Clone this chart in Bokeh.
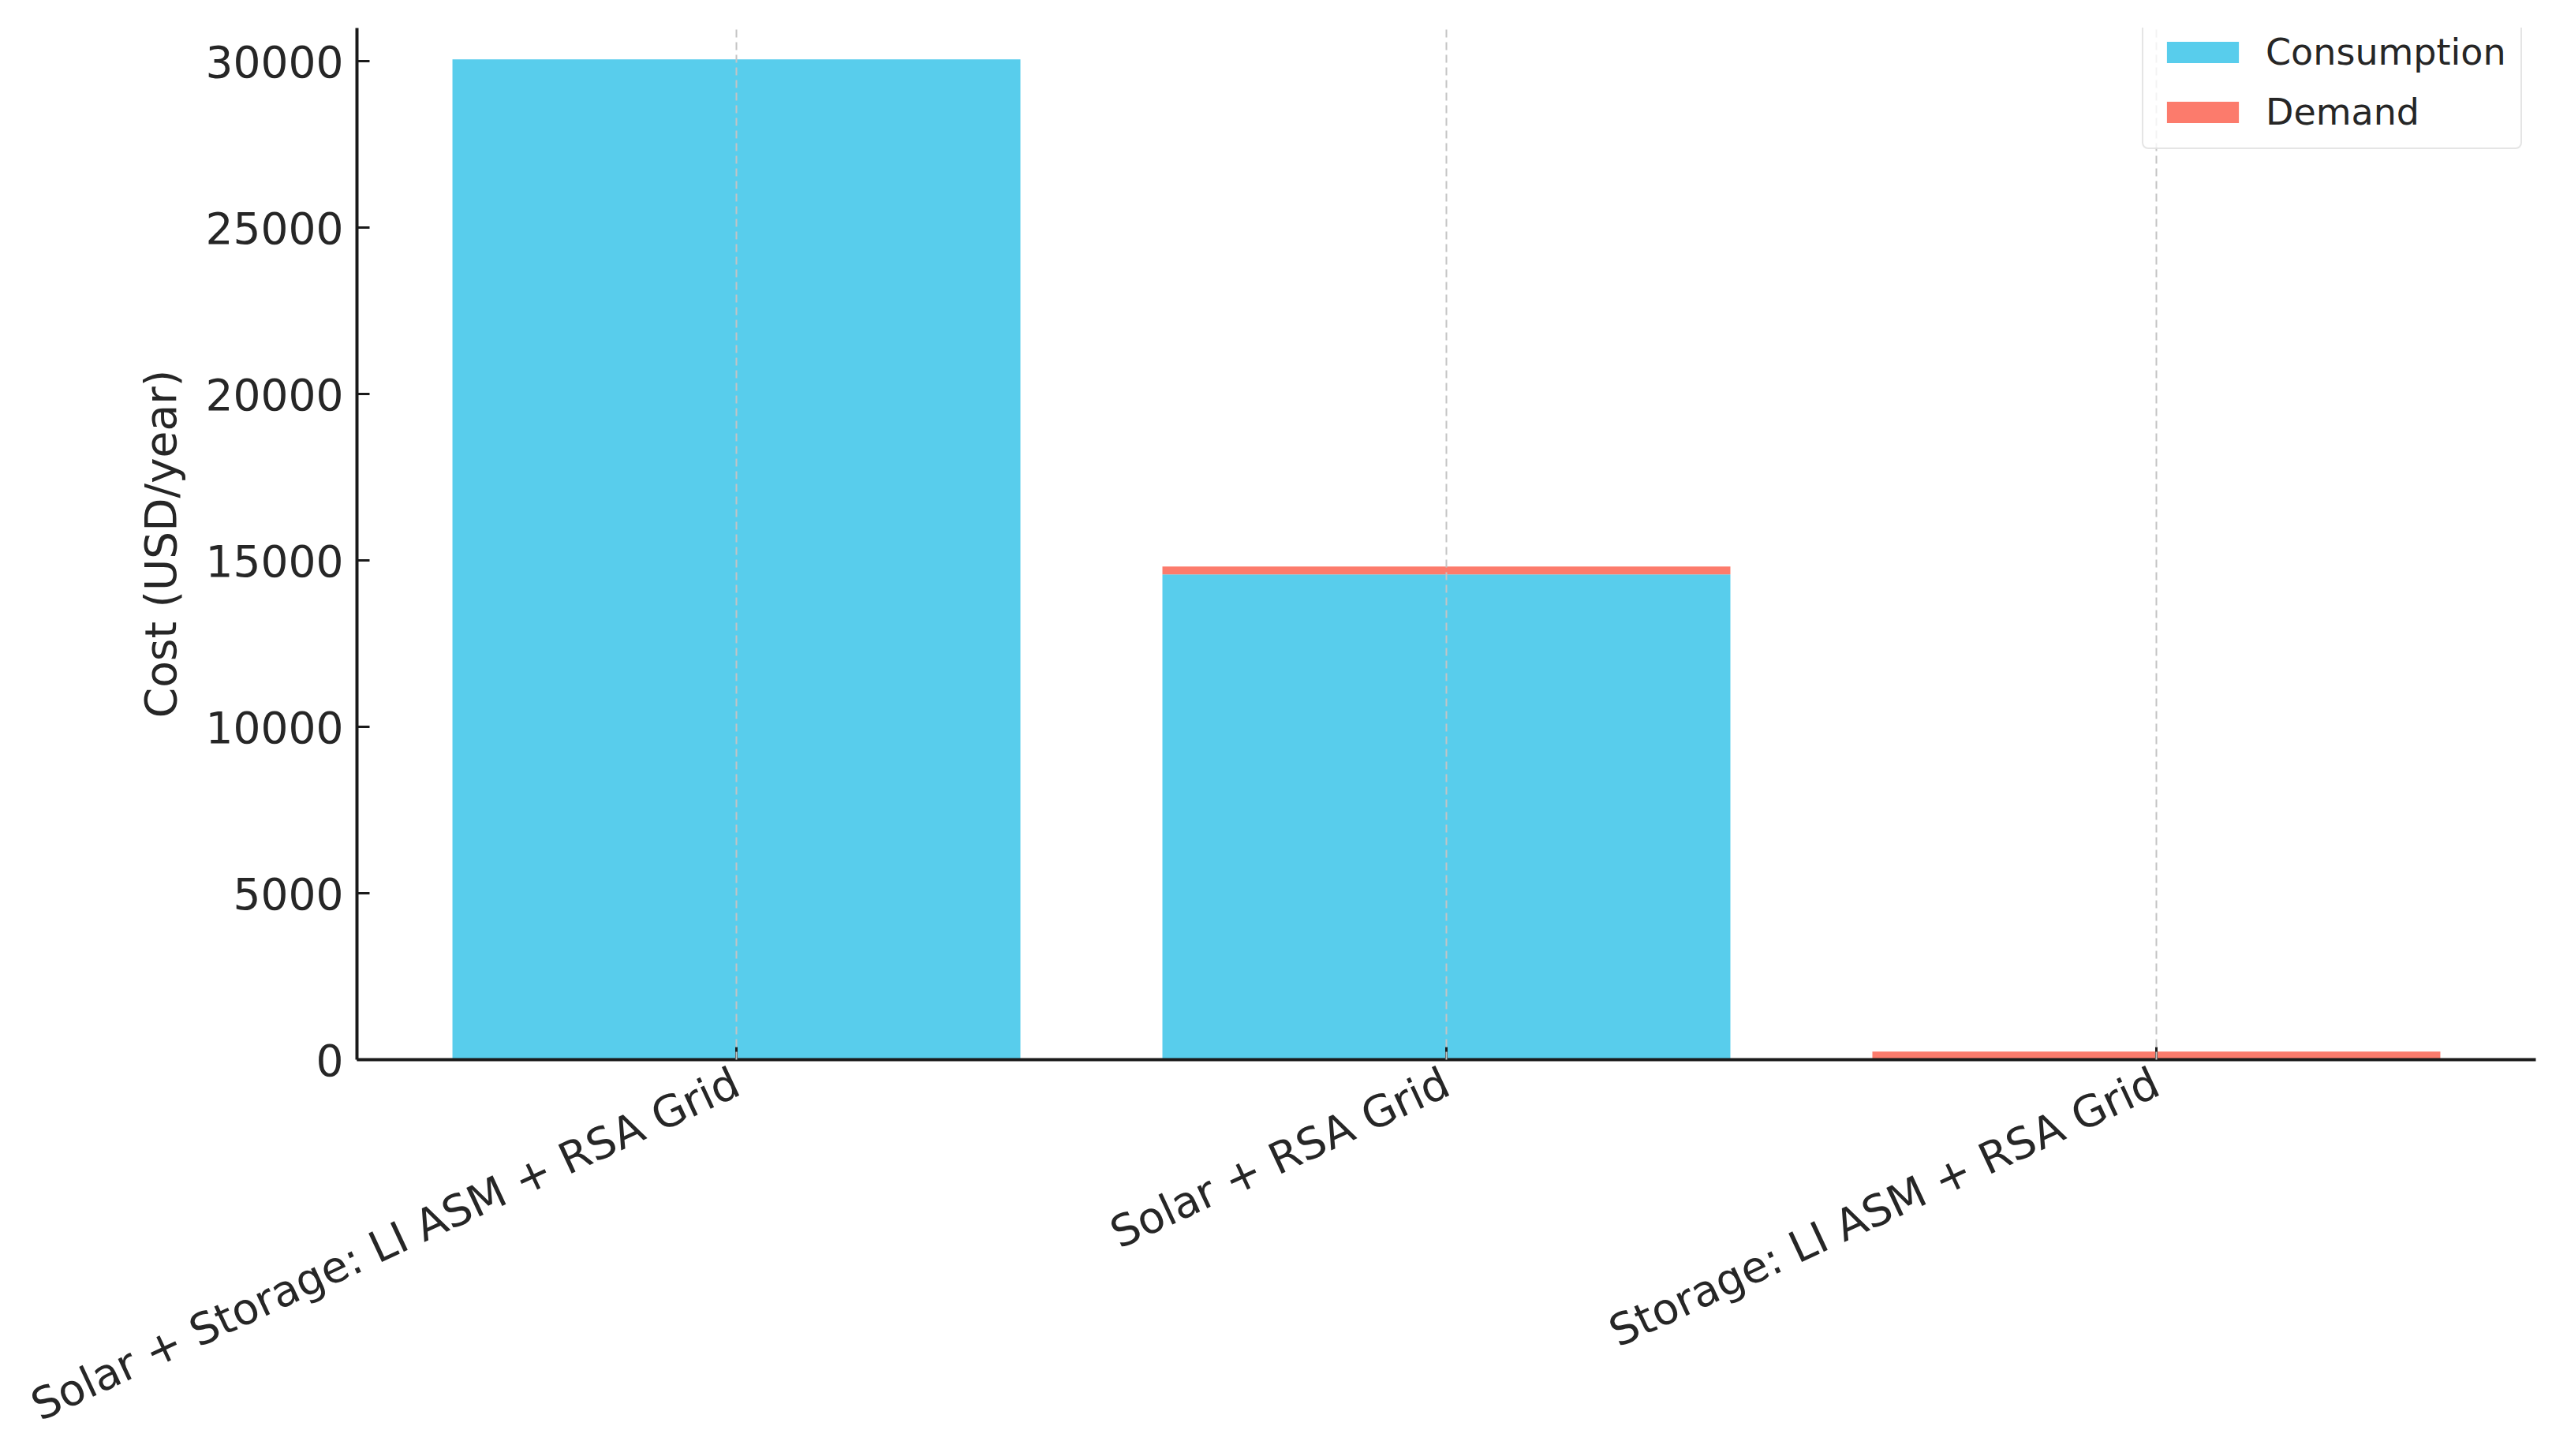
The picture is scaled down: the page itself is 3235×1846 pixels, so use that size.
import math
from bokeh.plotting import figure
from bokeh.models import ColumnDataSource, FactorRange, Range1d, FixedTicker, BasicTickFormatter, Legend
from bokeh.embed import file_html
from bokeh.resources import INLINE

# ---- data ----
categories = [
    "Solar + Storage: LI ASM + RSA Grid",
    "Solar + RSA Grid",
    "Storage: LI ASM + RSA Grid",
]
consumption = [30060, 14580, 0]
demand = [0, 240, 240]
series_names = ["Consumption", "Demand"]
y_ticks = [0, 5000, 10000, 15000, 20000, 25000, 30000]

colors = ["#58CDEC", "#FC7B6C"]
FONT = "DejaVu Sans"

source = ColumnDataSource(dict(cat=categories, consumption=consumption, demand=demand))

p = figure(
    width=3219, height=1846,
    x_range=FactorRange(factors=categories, range_padding=0.0345, range_padding_units="absolute"),
    y_range=Range1d(0, 31000),
    output_backend="svg", toolbar_location=None,
    min_border_left=452, min_border_right=5, min_border_top=35, min_border_bottom=503,
)
p.outline_line_color = None
p.background_fill_color = "white"
p.border_fill_color = "white"

renderers = p.vbar_stack(
    ["consumption", "demand"], x="cat", width=0.8, source=source,
    fill_color=colors, line_color=None,
)

legend = Legend(items=[(series_names[0], [renderers[0]]), (series_names[1], [renderers[1]])])
legend.location = (2263, 1154)
legend.margin = 0
legend.label_text_font = FONT
legend.label_text_font_size = "46px"
legend.label_text_color = "#262626"
legend.glyph_width = 114
legend.glyph_height = 34
legend.label_standoff = 23
legend.padding = 18
legend.spacing = 22
legend.border_line_color = "#cccccc"
legend.border_line_width = 2
legend.background_fill_alpha = 0.8
if "border_radius" in legend.properties():
    legend.border_radius = 8
p.add_layout(legend)

# grid
p.ygrid.visible = False
p.xgrid.grid_line_color = "#c4c4c4"
p.xgrid.grid_line_dash = "10 6"
p.xgrid.grid_line_width = 2
p.xgrid.level = "overlay"

# y axis
p.yaxis.ticker = FixedTicker(ticks=y_ticks)
p.yaxis.formatter = BasicTickFormatter(use_scientific=False)
p.yaxis.axis_label = "Cost (USD/year)"
p.yaxis.axis_label_text_font = FONT
p.yaxis.axis_label_text_font_size = "55px"
p.yaxis.axis_label_text_font_style = "normal"
p.yaxis.axis_label_text_color = "#262626"
p.yaxis.axis_label_standoff = 22
p.yaxis.major_label_text_font = FONT
p.yaxis.major_label_text_font_size = "55px"
p.yaxis.major_label_text_color = "#262626"
p.yaxis.major_label_standoff = 17
p.yaxis.minor_tick_line_color = None

# x axis
p.xaxis.major_label_orientation = math.radians(25)
p.xaxis.major_label_text_font = FONT
p.xaxis.major_label_text_font_size = "55px"
p.xaxis.major_label_text_color = "#262626"
p.xaxis.major_label_standoff = 26

for ax in (p.xaxis, p.yaxis):
    ax.axis_line_color = "#1a1a1a"
    ax.axis_line_width = 4
    ax.major_tick_line_color = "#1a1a1a"
    ax.major_tick_line_width = 3
    ax.major_tick_in = 16
    ax.major_tick_out = 0

open("out.html", "w").write(file_html(p, INLINE))
